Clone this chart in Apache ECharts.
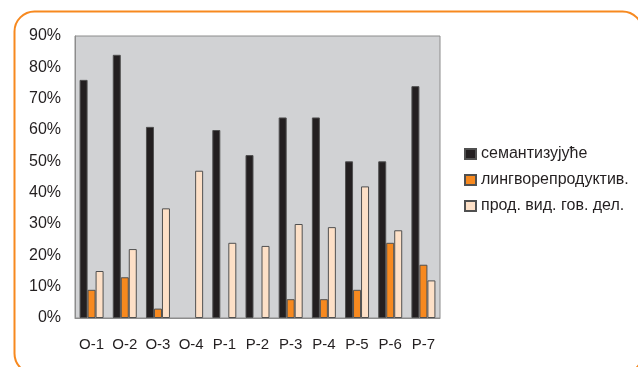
<!DOCTYPE html>
<html><head><meta charset="utf-8">
<script src="https://cdn.jsdelivr.net/npm/echarts@6/dist/echarts.min.js"></script>
<style>html,body{margin:0;padding:0;background:#fff}#c{width:638px;height:367px}</style>
</head><body><div id="c"></div>
<script>
const categories = ['O-1','O-2','O-3','O-4','P-1','P-2','P-3','P-4','P-5','P-6','P-7'];
const seriesNames = ['семантизујуће','лингворепродуктив.','прод. вид. гов. дел.'];
const semant = [76, 84, 61, 0, 60, 52, 64, 64, 50, 50, 74];
const lingvo = [9, 13, 3, 0, 0, 0, 6, 6, 9, 24, 17];
const prod = [15, 22, 35, 47, 24, 23, 30, 29, 42, 28, 12];
const yTicks = [0, 10, 20, 30, 40, 50, 60, 70, 80, 90];

const colors = ['#231f20', '#f7891f', '#fde0c7'];
const font = 'Liberation Sans, Arial, sans-serif';
const chart = echarts.init(document.getElementById('c'));
const mk = (name, data, color) => ({
  name, type: 'bar', data: data.map(v => v === 0 ? '-' : v), barWidth: 8, barGap: '0%',
  itemStyle: { color, borderColor: '#505050', borderWidth: 1 },
  animation: false
});
chart.setOption({
  animation: false,
  textStyle: { fontFamily: font },
  graphic: [{
    type: 'rect', left: 12, top: 9,
    shape: { width: 628, height: 362, r: 20 },
    style: { fill: 'none', stroke: '#f7891f', lineWidth: 2 }, silent: true
  }],
  grid: {
    left: 75, top: 36, right: 198, bottom: 49,
    show: true, backgroundColor: '#d1d2d4', borderColor: '#8c8c8c', borderWidth: 1
  },
  legend: {
    orient: 'vertical', left: 459, top: 141, itemGap: 10,
    itemWidth: 11, itemHeight: 10, icon: 'rect',
    textStyle: { fontSize: 16, color: '#231f20', fontFamily: font },
    data: seriesNames
  },
  xAxis: {
    type: 'category', data: categories,
    axisLine: { lineStyle: { color: '#8c8c8c' } },
    axisTick: { show: false },
    axisLabel: { color: '#231f20', fontSize: 15, margin: 19, interval: 0 }
  },
  yAxis: {
    type: 'value', min: yTicks[0], max: yTicks[yTicks.length - 1], interval: 10,
    splitLine: { show: false },
    axisLine: { show: true, lineStyle: { color: '#8c8c8c' } },
    axisTick: { show: false },
    axisLabel: { color: '#231f20', fontSize: 16, margin: 14, formatter: v => v + '%' }
  },
  series: [mk(seriesNames[0], semant, colors[0]), mk(seriesNames[1], lingvo, colors[1]), mk(seriesNames[2], prod, colors[2])]
});
</script></body></html>
